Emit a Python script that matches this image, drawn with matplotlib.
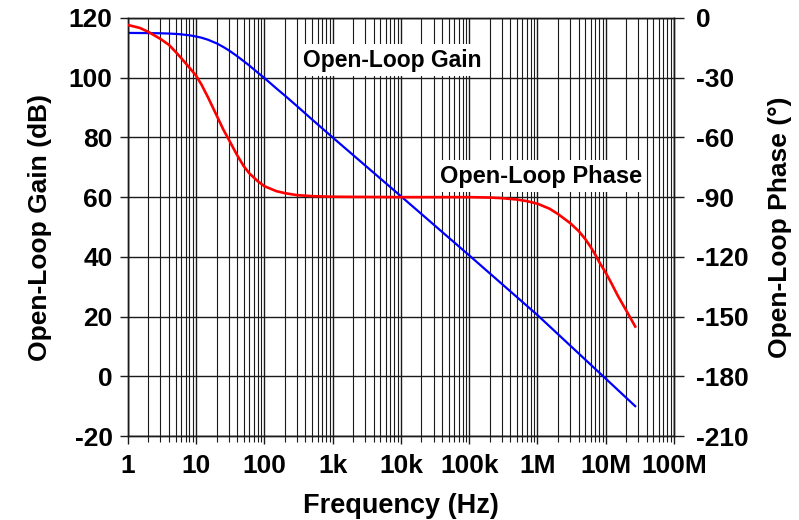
import matplotlib
matplotlib.use("Agg")
import matplotlib.pyplot as plt
from matplotlib.ticker import LogLocator, FixedLocator, NullFormatter

plt.rcParams['font.family'] = ['Liberation Sans', 'DejaVu Sans']
plt.rcParams['axes.unicode_minus'] = False

# Open-loop gain (dB) vs frequency (Hz)
gain_freq = [1, 2, 3, 4, 5, 6, 8, 10, 12, 15, 20, 25, 30, 40, 50, 60, 80,
             100, 150, 200, 300, 500, 1e3, 1e4, 1e5, 1e6, 1e7, 2.7e7]
gain_db = [115, 114.95, 114.88, 114.79, 114.67, 114.53, 114.2, 113.8, 113.4,
           112.7, 111.5, 110.3, 109.2, 107.2, 105.5, 104.1, 101.7, 99.9,
           96.4, 94.0, 90.5, 86.0, 80.0, 60.3, 40.5, 20.5, -0.8, -10]

# Open-loop phase (deg) vs frequency (Hz)
phase_freq = [1, 1.5, 2, 3, 4, 5, 6, 8, 10, 12, 15, 20, 25, 30, 40, 50, 60,
              80, 100, 150, 200, 300, 500, 1e3, 1e4, 1e5, 2e5, 3e5, 5e5,
              7e5, 1e6, 1.5e6, 2e6, 3e6, 4e6, 5e6, 6e6, 7e6, 8e6, 1e7,
              1.2e7, 1.5e7, 2e7, 2.7e7]
phase_deg = [-3.5, -5, -7, -10.5, -13.5, -17, -20, -25, -29, -33.5, -40,
             -49, -56, -61, -69, -74.5, -78, -82, -84.5, -87, -88, -89,
             -89.5, -89.8, -90, -90, -90.2, -90.5, -91.2, -92, -93.3, -95.8,
             -98.5, -103, -107, -111, -115, -118.8, -122.5, -128, -133,
             -139.5, -147, -155]

xtick_vals = [1, 10, 100, 1e3, 1e4, 1e5, 1e6, 1e7, 1e8]
xtick_labels = ['1', '10', '100', '1k', '10k', '100k', '1M', '10M', '100M']
gain_ticks = [-20, 0, 20, 40, 60, 80, 100, 120]
phase_ticks = [-210, -180, -150, -120, -90, -60, -30, 0]

fig = plt.figure(figsize=(7.99, 5.20), dpi=100)
ax = fig.add_axes([0.160, 0.1615, 0.6836, 0.8039])
ax2 = ax.twinx()

ax.set_xscale('log')
ax.set_xlim(1, 1e8)
ax.set_ylim(-20, 120)
ax2.set_ylim(-210, 0)

ax.xaxis.set_major_locator(FixedLocator(xtick_vals))
ax.set_xticklabels(xtick_labels)
ax.xaxis.set_minor_locator(LogLocator(base=10, subs=range(2, 10), numticks=100))
ax.xaxis.set_minor_formatter(NullFormatter())
ax.set_yticks(gain_ticks)
ax2.set_yticks(phase_ticks)

gc = '#1a1a1a'
ax.grid(True, which='major', axis='both', color=gc, lw=1.0)
ax.grid(True, which='minor', axis='x', color=gc, lw=0.8)
ax.set_axisbelow(True)

for a in (ax, ax2):
    for s in a.spines.values():
        s.set_color(gc)
        s.set_linewidth(1.0)
ax.tick_params(axis='y', which='major', direction='out', length=6,
               width=1.0, color=gc, labelsize=19, pad=5)
ax.tick_params(axis='x', which='major', direction='out', length=6,
               width=1.0, color=gc, labelsize=19, pad=7)
ax.tick_params(axis='x', which='minor', direction='out', length=4, width=0.8,
               color=gc)
ax2.tick_params(axis='y', direction='out', length=7, width=1.0, color=gc,
                labelsize=19, pad=9)
for lab in ax.get_xticklabels() + ax.get_yticklabels() + ax2.get_yticklabels():
    lab.set_fontweight('bold')

ax.plot(gain_freq, gain_db, color='#0000ff', lw=1.6, zorder=5)
ax2.plot(phase_freq, phase_deg, color='#ff0000', lw=1.9, zorder=5)

ax.set_xlabel('Frequency (Hz)', fontsize=19.5, fontweight='bold', labelpad=11)
ax.set_ylabel('Open-Loop Gain (dB)', fontsize=19, fontweight='bold', labelpad=12)
ax2.set_ylabel('Open-Loop Phase (°)', fontsize=19, fontweight='bold', labelpad=14)

box = dict(facecolor='white', edgecolor='none', pad=3)
ax2.text(0.4835, 0.8995, 'Open-Loop Gain', transform=ax2.transAxes,
         ha='center', va='center', fontsize=16.5, fontweight='bold', bbox=box,
         zorder=6)
ax2.text(0.756, 0.622, 'Open-Loop Phase', transform=ax2.transAxes,
         ha='center', va='center', fontsize=17, fontweight='bold', bbox=box,
         zorder=6)

fig.savefig('out.png', dpi=100)
